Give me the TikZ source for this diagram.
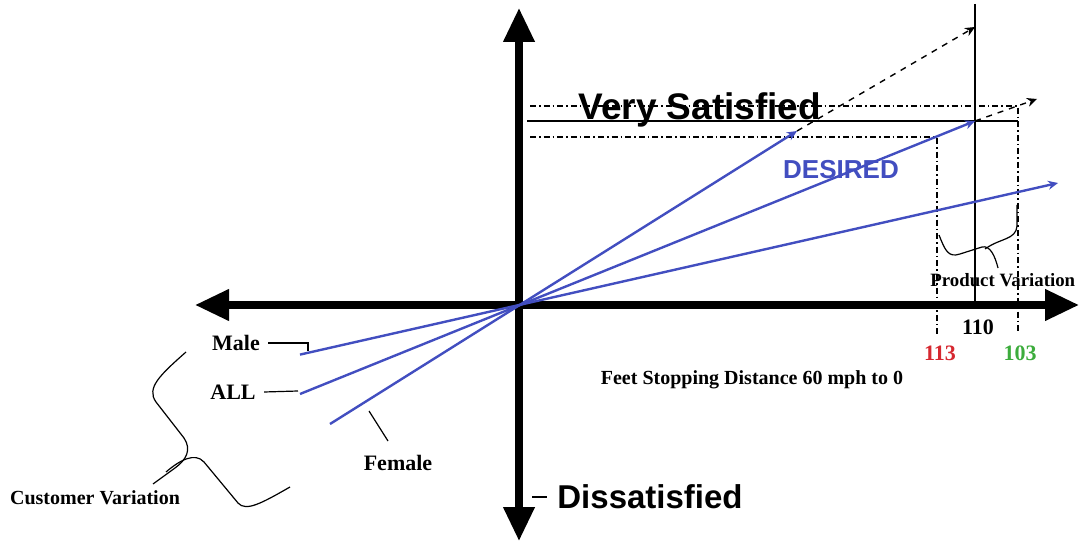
\documentclass[tikz,border=0pt]{standalone}
\usepackage{fontspec}
\setmainfont{Liberation Serif}
\newfontfamily\headfont{Liberation Sans}
\usepackage{xcolor}
\usepackage{tikz}
\usetikzlibrary{arrows.meta,positioning}

\definecolor{lineblue}{RGB}{66,78,192}
\definecolor{valred}{RGB}{214,40,48}
\definecolor{valgreen}{RGB}{60,172,60}

\tikzset{
  axis/.style={line width=3.6pt, {Triangle[width=15pt,length=17pt]}-{Triangle[width=15pt,length=17pt]}},
  bluearrow/.style={lineblue, line width=1.2pt, -{Stealth[length=5pt,width=4.5pt]}},
  dashext/.style={black, dashed, line width=0.7pt, -{Stealth[length=5pt,width=4.5pt]}},
  dashdot/.style={line width=0.6pt, dash pattern=on 3pt off 1.5pt on 0.8pt off 1.5pt},
  lbl/.style={font=\bfseries\fontsize{11}{12}\selectfont, inner sep=1pt},
  big/.style={font=\headfont\bfseries\fontsize{17}{20}\selectfont, inner sep=0pt}
}

\begin{document}
\begin{tikzpicture}[x=0.5pt,y=-0.5pt]
\useasboundingbox (0,0) rectangle (1079,544);

% axes
\coordinate (O) at (519,305);
\coordinate (top) at (519,8);
\coordinate (bot) at (519,541);
\coordinate (left) at (195,305);
\coordinate (right) at (1079,305);
\draw[axis] (bot) -- (top);
\draw[axis] (left) -- (right);

% reference lines
\coordinate (t1) at (975,4);
\coordinate (t2) at (975,305);
\draw[line width=0.7pt] (t1) -- (t2);
\draw[line width=0.7pt] (527,121) -- (1018,121);
\draw[dashdot] (530,106) -- (1018,106) -- (1018,334);
\draw[dashdot] (530,137) -- (937,137) -- (937,334);

\node[big, anchor=base west, font=\headfont\bfseries\fontsize{18.5}{20}\selectfont](vs) at (578,120) {Very Satisfied};
\node[big, anchor=west, font=\headfont\bfseries\fontsize{16.5}{20}\selectfont](dis) at (557,497) {Dissatisfied};
\coordinate (tick) at (532,497);
\draw[line width=0.6pt] (tick) -- ([xshift=-5pt]dis.west);

% customer lines
\coordinate (ms) at (300,354.6);
\coordinate (me) at (1058,183);
\coordinate (as) at (300,394);
\coordinate (ae) at (975,121);
\coordinate (fs) at (330,424);
\coordinate (fe) at (797,131);
\draw[bluearrow] (ms) -- (me);
\draw[bluearrow] (as) -- (ae);
\draw[bluearrow] (fs) -- (fe);

\coordinate (ax) at (1037,99);
\coordinate (fx) at (975,27);
\draw[dashext] (ae) -- (ax);
\draw[dashext] (fe) -- (fx);

\node[lineblue, font=\headfont\bfseries\fontsize{13}{15}\selectfont](des) at (841,170) {DESIRED};

% labels
\node[lbl](male) at (236,343) {Male};
\node[lbl](all) at (233,392) {ALL};
\node[lbl](fem) at (398,463) {Female};
\draw[line width=0.6pt] (male.east) ++(6,0) -- (308,343) -- (308,351);
\draw[line width=0.6pt] (all.east) ++(6,0) -- (298,391);
\draw[line width=0.6pt] (388,441) -- (369,411);

\node[lbl](v110) at (978,327) {110};
\node[lbl, valred](v113) at (940,353) {113};
\node[lbl, valgreen](v103) at (1020,353) {103};

\node[font=\bfseries\fontsize{10}{12}\selectfont](xlab) at (752,380) {Feet Stopping Distance 60 mph to 0};
\node[font=\bfseries\fontsize{9.4}{12}\selectfont, anchor=west, inner sep=0pt](pv) at (930,280) {Product Variation};
\node[font=\bfseries\fontsize{10}{12}\selectfont](cv) at (95,498) {Customer Variation};

% braces
\draw[line width=0.6pt] (939,235) .. controls (945,250) and (948,258) .. (960,254) -- (982,247) .. controls (990,245) and (995,256) .. (998,268);
\draw[line width=0.6pt] (985,249) .. controls (1000,238) and (1016,240) .. (1017,226) -- (1017,205);

\draw[line width=0.6pt] (186,352) .. controls (160,375) and (146,388) .. (156,402) -- (184,438) .. controls (192,450) and (186,460) .. (175,468) -- (153,484);
\draw[line width=0.6pt] (166,472) .. controls (180,460) and (195,452) .. (204,462) -- (238,503) .. controls (246,512) and (262,503) .. (290,487);

\end{tikzpicture}
\end{document}
